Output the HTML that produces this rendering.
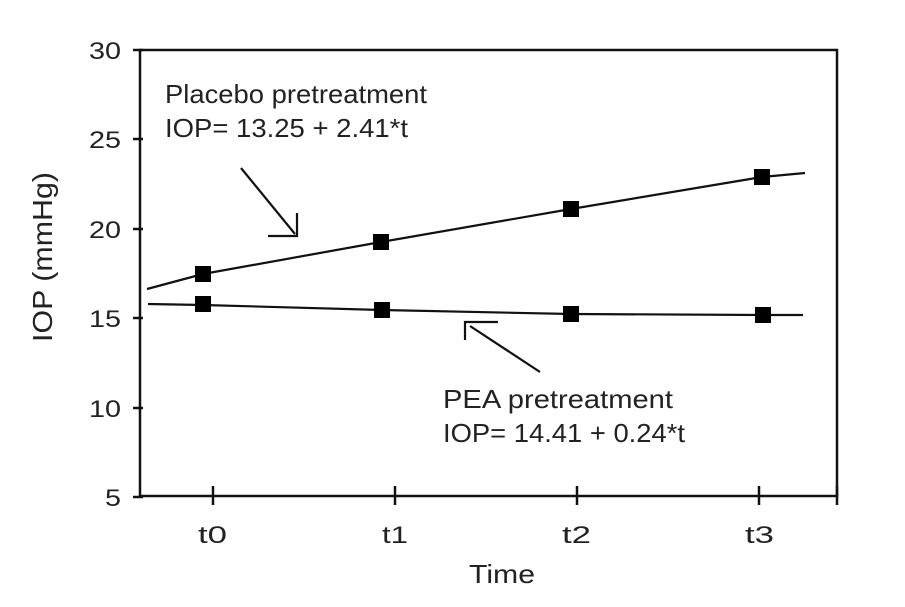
<!DOCTYPE html>
<html><head><meta charset="utf-8"><style>body{margin:0;background:#fff}svg{display:block}</style></head><body>
<svg width="905" height="607" viewBox="0 0 905 607" xmlns="http://www.w3.org/2000/svg" font-family="Liberation Sans, sans-serif" fill="#222">
<rect x="140" y="50" width="697" height="446" fill="none" stroke="#111" stroke-width="2.5"/>
<g stroke="#111" stroke-width="2.5">
<line x1="133" y1="50" x2="143" y2="50"/><line x1="133" y1="139" x2="143" y2="139"/><line x1="133" y1="229" x2="143" y2="229"/><line x1="133" y1="318" x2="143" y2="318"/><line x1="133" y1="408" x2="143" y2="408"/><line x1="133" y1="497" x2="143" y2="497"/>
<line x1="213" y1="486" x2="213" y2="505"/><line x1="395" y1="486" x2="395" y2="505"/><line x1="577" y1="486" x2="577" y2="505"/><line x1="759" y1="486" x2="759" y2="505"/><line x1="837" y1="486" x2="837" y2="505"/>
</g>
<g font-size="24" text-anchor="end">
<text x="121" y="59" textLength="32" lengthAdjust="spacingAndGlyphs">30</text><text x="121" y="148" textLength="32" lengthAdjust="spacingAndGlyphs">25</text><text x="121" y="238" textLength="32" lengthAdjust="spacingAndGlyphs">20</text><text x="121" y="327" textLength="32" lengthAdjust="spacingAndGlyphs">15</text><text x="121" y="417" textLength="32" lengthAdjust="spacingAndGlyphs">10</text><text x="121" y="506" textLength="16" lengthAdjust="spacingAndGlyphs">5</text>
</g>
<g font-size="24">
<text x="198" y="543" textLength="29" lengthAdjust="spacingAndGlyphs">t0</text><text x="382" y="543" textLength="26" lengthAdjust="spacingAndGlyphs">t1</text><text x="562" y="543" textLength="29" lengthAdjust="spacingAndGlyphs">t2</text><text x="745" y="543" textLength="29" lengthAdjust="spacingAndGlyphs">t3</text>
</g>
<text x="469" y="583" font-size="26" textLength="66" lengthAdjust="spacingAndGlyphs">Time</text>
<text transform="translate(52,342) rotate(-90)" font-size="28" textLength="170" lengthAdjust="spacingAndGlyphs">IOP (mmHg)</text>
<g stroke="#111" stroke-width="2.2" fill="none">
<polyline points="147,289 203,274 381,242 571,209 762,177 805,173"/>
<polyline points="148,304 203,305 382,310 571,314 763,315 803,315"/>
<line x1="241" y1="168" x2="295" y2="234"/>
<polyline points="268,236 297,236 297,213"/>
<line x1="540" y1="372" x2="470" y2="326"/>
<polyline points="498,322 465,322 465,340"/>
</g>
<g fill="#000">
<rect x="195" y="266" width="16" height="16"/><rect x="373" y="234" width="16" height="16"/><rect x="563" y="201" width="16" height="16"/><rect x="754" y="169" width="16" height="16"/>
<rect x="195" y="296" width="16" height="16"/><rect x="374" y="302" width="16" height="16"/><rect x="563" y="306" width="16" height="16"/><rect x="755" y="307" width="16" height="16"/>
</g>
<g font-size="26">
<text x="165" y="103" textLength="262" lengthAdjust="spacingAndGlyphs">Placebo pretreatment</text><text x="165" y="137" textLength="243" lengthAdjust="spacingAndGlyphs">IOP= 13.25 + 2.41*t</text>
<text x="443" y="408" textLength="230" lengthAdjust="spacingAndGlyphs">PEA pretreatment</text><text x="443" y="442" textLength="242" lengthAdjust="spacingAndGlyphs">IOP= 14.41 + 0.24*t</text>
</g>
</svg>
</body></html>
